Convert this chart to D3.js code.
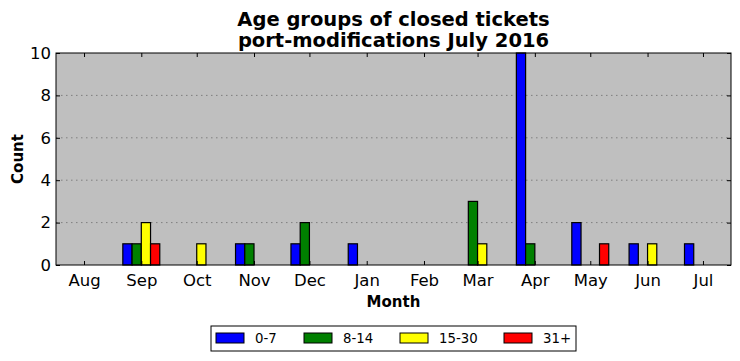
<!doctype html>
<html>
  <head>
    <script src="https://cdn.jsdelivr.net/npm/d3@7/dist/d3.min.js"></script>
    <style>
      body { margin: 0; background: #fff; }
      text { font-family: "DejaVu Sans", sans-serif; }
    </style>
  </head>
  <body>
    <div id="my_dataviz"></div>
    <script>
      // month starts (bars are grouped around these dates)
      var months = ["2015-08-01","2015-09-01","2015-10-01","2015-11-01","2015-12-01","2016-01-01",
                    "2016-02-01","2016-03-01","2016-04-01","2016-05-01","2016-06-01","2016-07-01"];
      var monthLabels = ["Aug","Sep","Oct","Nov","Dec","Jan","Feb","Mar","Apr","May","Jun","Jul"];
      var groups = ["0-7","8-14","15-30","31+"];
      var colors = ["#0000ff","#008000","#ffff00","#ff0000"];
      // counts per month, one array per age group
      var age0_7   = [0,1,0,1,1,1,0,0,10,2,1,1];
      var age8_14  = [0,1,0,1,2,0,0,3,1,0,0,0];
      var age15_30 = [0,2,1,0,0,0,0,1,0,0,1,0];
      var age31    = [0,1,0,0,0,0,0,0,0,1,0,0];
      var yTicks = [0,2,4,6,8,10];

      var series = [age0_7, age8_14, age15_30, age31];
      var parse = d3.timeParse("%Y-%m-%d");
      var dates = months.map(parse);
      var barDays = 5;

      var margin = {top:53, right:9, bottom:96, left:56},
        width = 740 - margin.left - margin.right,
        height = 361 - margin.top - margin.bottom;

      var svg0 = d3.select("#my_dataviz")
        .append("svg")
          .attr("width", 740)
          .attr("height", 361);
      var svg = svg0.append("g")
          .attr("transform", "translate("+margin.left+","+margin.top+")");

      var x = d3.scaleTime()
        .domain([new Date(2015,6,16,20), new Date(2016,6,16,4)])
        .range([0, width]);
      var y = d3.scaleLinear()
        .domain([0,10])
        .range([height,0]);

      // background
      svg.append("rect")
        .attr("width", width).attr("height", height)
        .attr("fill", "#bfbfbf");

      // grid
      svg.selectAll("gridY")
        .data(yTicks.filter(function(d){ return d > 0 && d < 10; }))
        .enter().append("line")
          .attr("x1", 0).attr("x2", width)
          .attr("y1", function(d){ return y(d); })
          .attr("y2", function(d){ return y(d); })
          .attr("stroke", "#7f7f7f")
          .attr("stroke-width", 1)
          .attr("stroke-dasharray", "1.5,3.5");

      // bars
      var bars = [];
      series.forEach(function(vals, g) {
        vals.forEach(function(v, i) {
          var start = d3.timeDay.offset(dates[i], (g - 2) * barDays);
          bars.push({g: g, v: v, x0: start, x1: d3.timeDay.offset(start, barDays)});
        });
      });
      svg.selectAll("myBars")
        .data(bars)
        .enter()
        .append("rect")
          .attr("x", function(d){ return x(d.x0); })
          .attr("width", function(d){ return x(d.x1) - x(d.x0); })
          .attr("y", function(d){ return y(d.v); })
          .attr("height", function(d){ return y(0) - y(d.v); })
          .attr("fill", function(d){ return colors[d.g]; })
          .attr("stroke", "#000")
          .attr("stroke-width", 1.2);

      // axes (ticks pointing inward, on all four sides)
      var xb = svg.append("g")
        .attr("transform", "translate(0,"+height+")")
        .call(d3.axisBottom(x).tickValues(dates).tickSizeInner(-4).tickSizeOuter(0)
          .tickPadding(9).tickFormat(function(d,i){ return monthLabels[i]; }));
      var xt = svg.append("g")
        .call(d3.axisTop(x).tickValues(dates).tickSizeInner(-4).tickSizeOuter(0).tickFormat(""));
      var yl = svg.append("g")
        .call(d3.axisLeft(y).tickValues(yTicks).tickSizeInner(-4).tickSizeOuter(0).tickPadding(5));
      var yr = svg.append("g")
        .attr("transform", "translate("+width+",0)")
        .call(d3.axisRight(y).tickValues(yTicks).tickSizeInner(-4).tickSizeOuter(0).tickFormat(""));
      [xb, xt, yl, yr].forEach(function(a) {
        a.select(".domain").remove();
        a.selectAll("line").attr("stroke", "#000").attr("stroke-width", 1);
        a.selectAll("text").style("font-size", "16.5px").attr("fill", "#000")
          .style("font-family", "DejaVu Sans");
      });

      // frame
      svg.append("rect")
        .attr("width", width).attr("height", height)
        .attr("fill", "none").attr("stroke", "#000").attr("stroke-width", 1);

      // title
      var title = svg0.append("text")
        .attr("x", margin.left + width/2)
        .attr("text-anchor", "middle")
        .style("font-size", "19.5px")
        .style("font-weight", "bold");
      title.append("tspan").attr("x", margin.left + width/2).attr("y", 26).text("Age groups of closed tickets");
      title.append("tspan").attr("x", margin.left + width/2).attr("y", 47).text("port-modifications July 2016");

      // axis labels
      svg0.append("text")
        .attr("x", margin.left + width/2).attr("y", 307)
        .attr("text-anchor", "middle")
        .style("font-size", "15px").style("font-weight", "bold")
        .text("Month");
      svg0.append("text")
        .attr("transform", "translate(23,"+(margin.top + height/2)+") rotate(-90)")
        .attr("text-anchor", "middle")
        .style("font-size", "15px").style("font-weight", "bold")
        .text("Count");

      // legend
      var legend = svg0.append("g").attr("transform", "translate(211,326)");
      legend.append("rect")
        .attr("width", 365).attr("height", 25)
        .attr("fill", "#fff").attr("stroke", "#000").attr("stroke-width", 1);
      var legX = [5, 93, 189, 293];
      var item = legend.selectAll("myLegend")
        .data(groups)
        .enter().append("g")
          .attr("transform", function(d,i){ return "translate("+legX[i]+",0)"; });
      item.append("rect")
        .attr("y", 7).attr("width", 28).attr("height", 10)
        .attr("fill", function(d,i){ return colors[i]; })
        .attr("stroke", "#000").attr("stroke-width", 1);
      item.append("text")
        .attr("x", 39).attr("y", 17)
        .style("font-size", "13.3px")
        .text(function(d){ return d; });
    </script>
  </body>
</html>
